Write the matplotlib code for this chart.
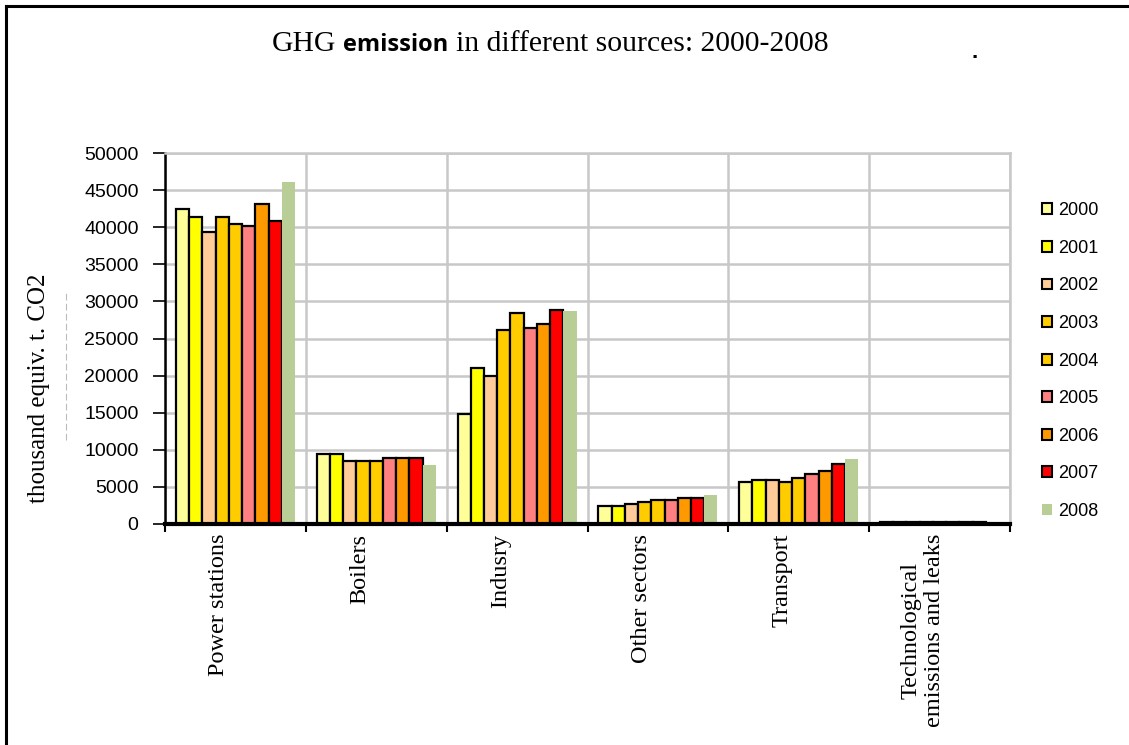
import matplotlib
matplotlib.use("Agg")
import matplotlib.pyplot as plt
import numpy as np
from matplotlib.patches import Patch
from matplotlib.lines import Line2D

categories = ["Power stations", "Boilers", "Indusry", "Other sectors", "Transport",
              "Technological\nemissions and leaks"]
years = ["2000", "2001", "2002", "2003", "2004", "2005", "2006", "2007", "2008"]
v2000 = [42500, 9400, 14800, 2400, 5700, 300]
v2001 = [41400, 9400, 21000, 2400, 5900, 300]
v2002 = [39300, 8500, 19900, 2700, 5900, 300]
v2003 = [41400, 8500, 26100, 3000, 5600, 300]
v2004 = [40400, 8500, 28500, 3200, 6200, 300]
v2005 = [40100, 8850, 26400, 3200, 6800, 300]
v2006 = [43100, 8850, 27000, 3500, 7200, 300]
v2007 = [40900, 8850, 28800, 3500, 8100, 300]
v2008 = [46100, 7900, 28700, 3900, 8700, 200]
series = [v2000, v2001, v2002, v2003, v2004, v2005, v2006, v2007, v2008]
colors = ["#FFFF99", "#FFFF00", "#FFCC99", "#FFCC00", "#FFCC00", "#FF8080",
          "#FF9900", "#FF0000", "#B9CE96"]
yticks = [0, 5000, 10000, 15000, 20000, 25000, 30000, 35000, 40000, 45000, 50000]

W, H = 1129, 745
fig = plt.figure(figsize=(W / 100, H / 100), dpi=100)
fig.patch.set_facecolor("white")
ax = fig.add_axes([165 / W, 1 - 524 / H, (1010 - 165) / W, (524 - 153) / H])

n = len(series)
group_w = 0.846
bw = group_w / n
x = np.arange(len(categories))
for i, (vals, c) in enumerate(zip(series, colors)):
    off = -group_w / 2 + bw * (i + 0.5)
    if i < n - 1:
        ax.bar(x + off, vals, bw, color=c, edgecolor="black", linewidth=1.6, zorder=3)
    else:
        ax.bar(x + off, vals, bw, color=c, edgecolor="none", zorder=3)

ax.set_xlim(-0.5, len(categories) - 0.5)
ax.set_ylim(0, 50000)
ax.set_yticks(yticks)
ax.set_yticklabels([str(t) for t in yticks], fontfamily="Liberation Sans", fontsize=14)
# category labels sit slightly left of the group centres in the original
ax.set_xticks(x - 0.12)
ax.set_xticklabels(categories, rotation=90, fontfamily="Liberation Serif", fontsize=17.5,
                   va="top", ha="center", multialignment="center")
ax.set_xticks(np.arange(-0.5, len(categories) + 0.5, 1), minor=True)
ax.tick_params(axis="x", which="major", length=0, pad=7)
ax.tick_params(axis="x", which="minor", length=6, width=1.5, color="black", direction="out")
ax.tick_params(axis="y", which="major", length=9, width=1.2, pad=10, direction="out")

ax.grid(axis="y", which="major", color="#C8C8C8", linewidth=1.8, zorder=0)
ax.grid(axis="x", which="minor", color="#C8C8C8", linewidth=1.8, zorder=0)
ax.set_axisbelow(True)
for s in ["top", "right"]:
    ax.spines[s].set_color("#C8C8C8")
    ax.spines[s].set_linewidth(1.8)
ax.spines["left"].set_linewidth(1.8)
ax.spines["bottom"].set_linewidth(3)
ax.spines["bottom"].set_zorder(5)

ax.set_ylabel("thousand equiv. t. CO2", fontfamily="Liberation Serif", fontsize=18,
              labelpad=0)
ax.yaxis.set_label_coords((50 - 165) / (1010 - 165), (524 - 388) / (524 - 153))

# legend
handles = []
for i, (y, c) in enumerate(zip(years, colors)):
    if i < n - 1:
        handles.append(Patch(facecolor=c, edgecolor="black", linewidth=1.5, label=y))
    else:
        handles.append(Patch(facecolor=c, edgecolor="none", label=y))
leg = fig.legend(handles=handles, loc="upper left",
                 bbox_to_anchor=(1035 / W, 1 - 195 / H),
                 frameon=False, prop={"family": "Liberation Sans", "size": 13},
                 handlelength=0.55, handleheight=0.55, handletextpad=0.35,
                 labelspacing=1.14, borderaxespad=0)

# title with mixed fonts
fig.canvas.draw()
r = fig.canvas.get_renderer()
ty = 1 - 51 / H
t1 = fig.text(272 / W, ty, "GHG", fontfamily="Liberation Serif", fontsize=21.3, va="baseline")
b1 = t1.get_window_extent(r)
t2 = fig.text((b1.x1 + 7) / W, ty, "emission", fontfamily="Open Sans", fontweight="bold",
              fontsize=17, va="baseline")
b2 = t2.get_window_extent(r)
t3 = fig.text((b2.x1 + 7) / W, ty, "in different sources: 2000-2008",
              fontfamily="Liberation Serif", fontsize=21.3, va="baseline")
fig.text(975 / W, 1 - 58 / H, ".", fontfamily="Liberation Sans", fontweight="bold",
         fontsize=16, va="baseline", ha="center")

# frame border and faint dashed line
fig.add_artist(Line2D([6 / W, 6 / W], [0, 1 - 6 / H], transform=fig.transFigure,
                      color="black", linewidth=2.2))
fig.add_artist(Line2D([6 / W, 1], [1 - 6 / H, 1 - 6 / H], transform=fig.transFigure,
                      color="black", linewidth=2.2))
fig.add_artist(Line2D([66 / W, 66 / W], [1 - 440 / H, 1 - 290 / H], transform=fig.transFigure,
                      color="#BBBBBB", linewidth=0.8, linestyle=(0, (6, 3))))

fig.savefig("out.png", dpi=100, facecolor="white")
